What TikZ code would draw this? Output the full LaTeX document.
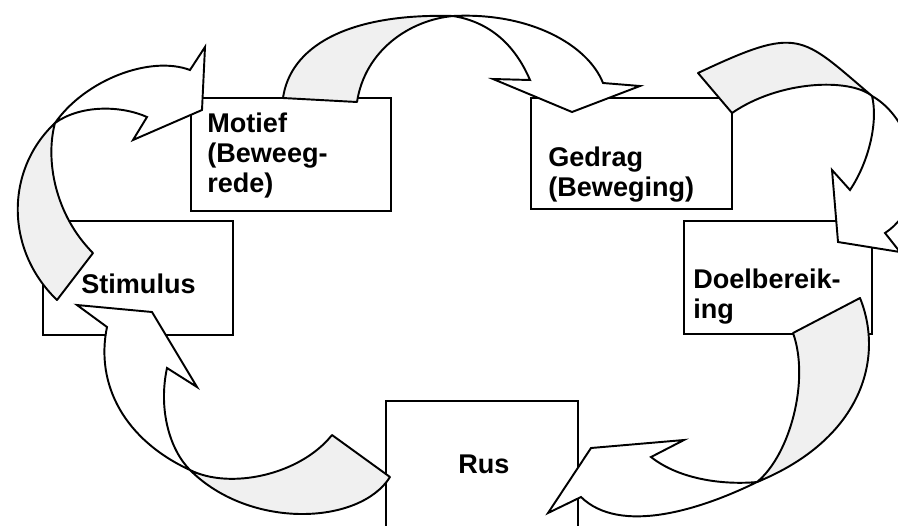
\documentclass[tikz,border=0pt]{standalone}
\usepackage{fontspec}
\setmainfont{Liberation Sans}
\begin{document}
\begin{tikzpicture}[x=0.02cm,y=-0.02cm,
    box/.style={draw,fill=white,line width=1pt,anchor=north west,inner sep=0pt},
    lbl/.style={anchor=base west,inner sep=0pt,text width=3.6cm,align=left,
      font=\fontsize{15.4}{17.3}\selectfont\bfseries},
    back/.style={draw,fill=black!6,line width=1.1pt,line join=round},
    front/.style={draw,fill=white,line width=1.1pt,line join=miter}]
  \useasboundingbox (0,0) rectangle (898,525);
  \clip (0,0) rectangle (898,525);
  \node[box,minimum width=4cm,minimum height=2.26cm] (motief) at (190,97) {};
  \node[box,minimum width=4.02cm,minimum height=2.22cm] (gedrag) at (530,97) {};
  \node[box,minimum width=3.8cm,minimum height=2.28cm] (stimulus) at (42,220) {};
  \node[box,minimum width=3.76cm,minimum height=2.26cm] (doel) at (683,220) {};
  \node[box,minimum width=3.84cm,minimum height=3cm] (rus) at (385,400) {};
  \node[lbl] (motieft) at (207,132) {Motief\\(Beweeg-\\rede)};
  \node[lbl] (gedragt) at (548,166) {Gedrag\\(Beweging)};
  \node[lbl] (stimulust) at (81,293) {Stimulus};
  \node[lbl] (doelt) at (693,288) {Doelbereik-\\ing};
  \node[lbl] (rust) at (458,473) {Rus};
  \coordinate (t1) at (453,16);
  \coordinate (t2) at (872,96);
  \coordinate (t3) at (757,482);
  \coordinate (t4) at (190,470);
  \coordinate (t5) at (55,123);
  \begin{scope}
    % motief -> gedrag
    \draw[back] (283,98) .. controls (290,48) and (345,13) .. (t1)
      .. controls (410,20) and (365,50) .. (357,102) -- cycle;
    \draw[front] (t1) .. controls (530,12) and (588,45) .. (603,83)
      -- (640,86) -- (572,112) -- (493,79) -- (530,80)
      .. controls (515,45) and (490,22) .. (t1) -- cycle;
    % gedrag -> doel
    \draw[back] (698,73) .. controls (800,25) and (800,35) .. (t2)
      .. controls (850,78) and (780,80) .. (732,113) -- cycle;
    \draw[front] (t2) .. controls (915,120) and (935,200) .. (885,233)
      -- (900,252) -- (838,242) -- (832,170) -- (850,190)
      .. controls (870,160) and (878,120) .. (t2) -- cycle;
    % doel -> rus
    \draw[back] (793,333) -- (860,298) .. controls (885,360) and (860,440) .. (t3)
      .. controls (790,455) and (810,380) .. (793,333) -- cycle;
    \draw[front] (t3) .. controls (700,510) and (620,535) .. (581,497)
      -- (548,513) -- (591,448) -- (684,440) -- (651,457)
      .. controls (680,480) and (725,485) .. (t3) -- cycle;
    % rus -> stimulus
    \draw[back] (332,435) -- (390,477) .. controls (360,525) and (250,530) .. (t4)
      .. controls (230,490) and (300,475) .. (332,435) -- cycle;
    \draw[front] (t4) .. controls (125,440) and (95,385) .. (107,327)
      -- (77,305) -- (152,312) -- (197,387) -- (167,368)
      .. controls (158,410) and (170,450) .. (t4) -- cycle;
    % stimulus -> motief
    \draw[back] (93,253) -- (57,300) .. controls (5,250) and (5,170) .. (t5)
      .. controls (45,160) and (55,215) .. (93,253) -- cycle;
    \draw[front] (t5) .. controls (85,80) and (150,55) .. (190,70)
      -- (205,47) -- (202,110) -- (133,140) -- (147,117)
      .. controls (120,105) and (80,105) .. (t5) -- cycle;
  \end{scope}
\end{tikzpicture}
\end{document}
